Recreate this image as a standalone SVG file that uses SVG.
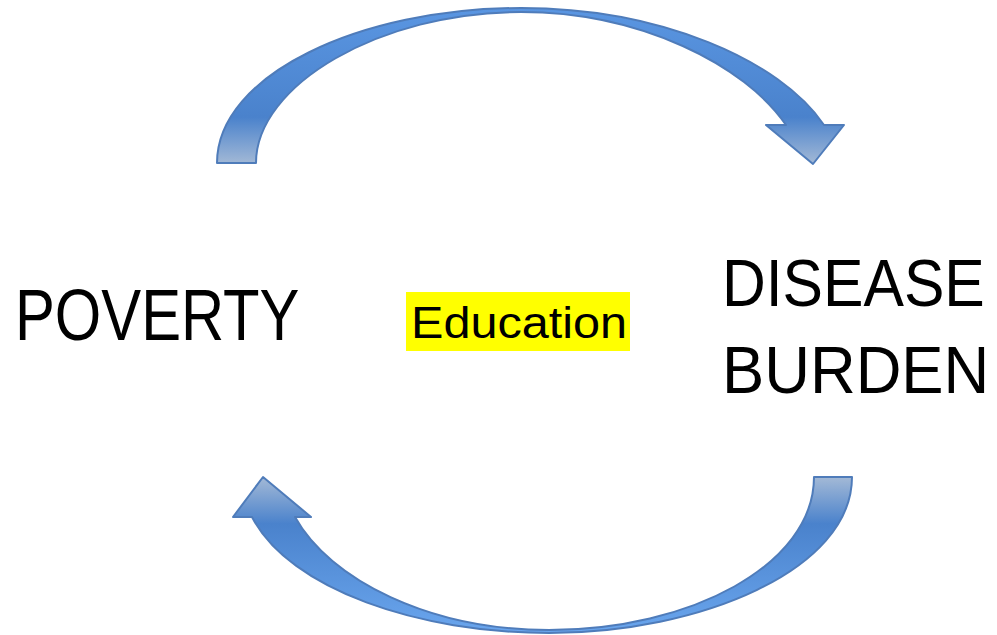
<svg xmlns="http://www.w3.org/2000/svg" width="997" height="635" viewBox="0 0 997 635">
<defs>
<linearGradient id="gTop" x1="0" y1="0" x2="0" y2="1">
<stop offset="0" stop-color="#5a96e2"/>
<stop offset="0.7" stop-color="#4a82cc"/>
<stop offset="1" stop-color="#a3b9d6"/>
</linearGradient>
<linearGradient id="gBot" x1="0" y1="0" x2="0" y2="1">
<stop offset="0" stop-color="#a3b9d6"/>
<stop offset="0.3" stop-color="#4a82cc"/>
<stop offset="1" stop-color="#6aa6ee"/>
</linearGradient>
<style>
.arrow{stroke:#4f7cba;stroke-width:2;stroke-linejoin:round}
.big{font-family:"Liberation Sans",Arial,sans-serif;fill:#000}
</style>
</defs>
<g id="connectors">
<path id="arrowTop" class="arrow" fill="url(#gTop)" d="M217,163 C217,75 360,8 521,8 C660,8 780,60 824,125 L844,125 L813,164 L766,125 L786,125 C745,65 640,12 521,12 C380,12 256,85 256,163 Z"/>
<path id="arrowBottom" class="arrow" fill="url(#gBot)" d="M852,477 C852,570 700,633 549,633 C420,633 290,590 252,517 L233,517 L263,477 L311,517 L295,517 C330,580 430,630 549,630 C690,630 814,565 814,477 Z"/>
</g>
<g id="poverty">
<text class="big" transform="translate(15,340) scale(0.83,1)" font-size="72">POVERTY</text>
</g>
<g id="disease-burden">
<text class="big" transform="translate(722,306) scale(0.905,1)" font-size="67">DISEASE</text>
<text class="big" transform="translate(722,393) scale(0.945,1)" font-size="67">BURDEN</text>
</g>
<g id="education">
<rect x="406" y="292" width="224" height="59" fill="#ffff00"/>
<text class="big" transform="translate(411,338) scale(1.08,1)" font-size="45">Education</text>
</g>
</svg>
